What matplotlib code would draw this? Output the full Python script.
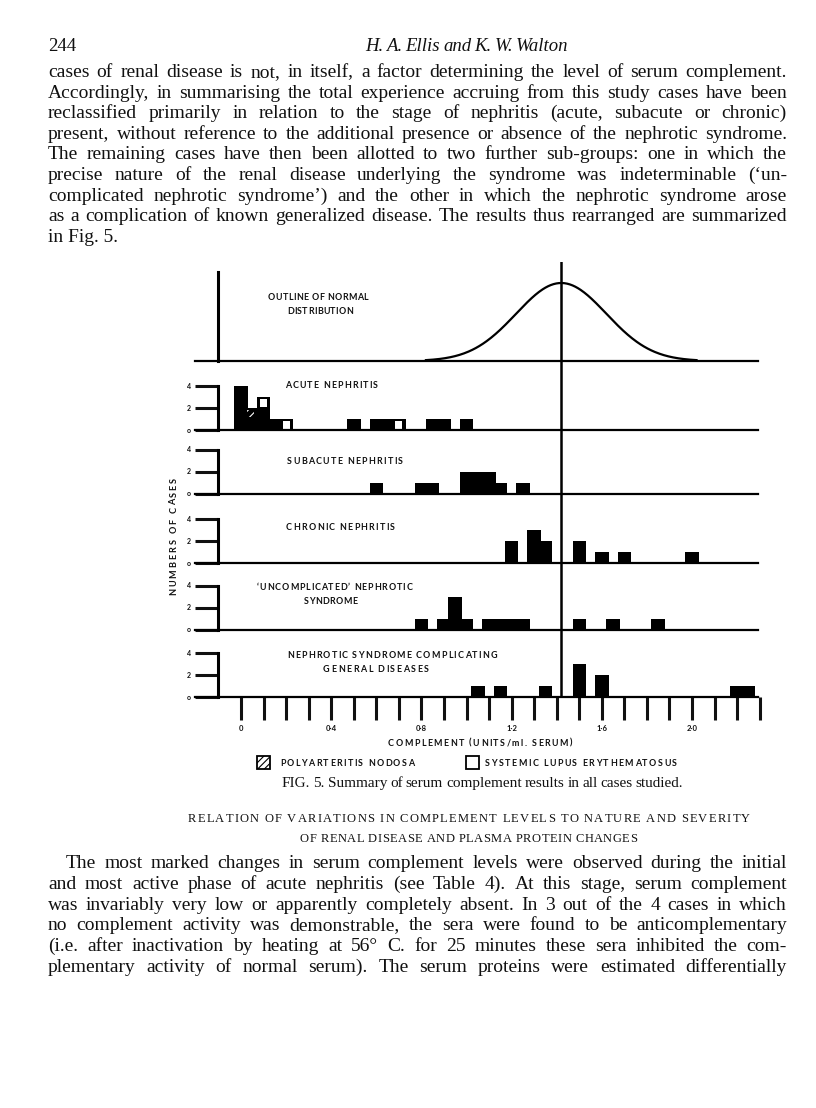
import numpy as np
import matplotlib
matplotlib.use('Agg')
import matplotlib.pyplot as plt
from matplotlib.patches import Rectangle

# ---- values ----
complement_ticks = np.round(np.arange(0, 2.31, 0.1), 1)
tick_labels = {0.0: '0', 0.4: '0·4', 0.8: '0·8', 1.2: '1·2', 1.6: '1·6', 2.0: '2·0'}
normal_mean = 1.42
normal_sd = 0.2

acute_x = [0.0, 0.05, 0.1, 0.15, 0.2, 0.5, 0.6, 0.65, 0.7, 0.85, 0.9, 1.0]
acute_n = [4, 2, 3, 1, 1, 1, 1, 1, 1, 1, 1, 1]
acute_sle = [0, 0, 1, 0, 1, 0, 0, 0, 1, 0, 0, 0]   # top case is lupus
acute_pan = [0, 1, 0, 0, 0, 0, 0, 0, 0, 0, 0, 0]   # polyarteritis nodosa

subacute_x = [0.6, 0.8, 0.85, 1.0, 1.05, 1.1, 1.15, 1.25]
subacute_n = [1, 1, 1, 2, 2, 2, 1, 1]

chronic_x = [1.2, 1.3, 1.35, 1.5, 1.6, 1.7, 2.0]
chronic_n = [2, 3, 2, 2, 1, 1, 1]

uncomp_x = [0.8, 0.9, 0.95, 1.0, 1.1, 1.15, 1.2, 1.25, 1.5, 1.65, 1.85]
uncomp_n = [1, 1, 3, 1, 1, 1, 1, 1, 1, 1, 1]

general_x = [1.05, 1.15, 1.35, 1.5, 1.6, 2.2, 2.25]
general_n = [1, 1, 1, 3, 2, 1, 1]

top_par = [
    "cases of renal disease is not, in itself, a factor determining the level of serum complement.",
    "Accordingly, in summarising the total experience accruing from this study cases have been",
    "reclassified primarily in relation to the stage of nephritis (acute, subacute or chronic)",
    "present, without reference to the additional presence or absence of the nephrotic syndrome.",
    "The remaining cases have then been allotted to two further sub-groups: one in which the",
    "precise nature of the renal disease underlying the syndrome was indeterminable (\u2018un-",
    "complicated nephrotic syndrome\u2019) and the other in which the nephrotic syndrome arose",
    "as a complication of known generalized disease. The results thus rearranged are summarized",
    "in Fig. 5.",
]
bottom_par = [
    "The most marked changes in serum complement levels were observed during the initial",
    "and most active phase of acute nephritis (see Table 4). At this stage, serum complement",
    "was invariably very low or apparently completely absent. In 3 out of the 4 cases in which",
    "no complement activity was demonstrable, the sera were found to be anticomplementary",
    "(i.e. after inactivation by heating at 56\u00b0 C. for 25 minutes these sera inhibited the com-",
    "plementary activity of normal serum). The serum proteins were estimated differentially",
]

W, H = 816, 1108
fig = plt.figure(figsize=(W / 100, H / 100), dpi=100)
renderer = fig.canvas.get_renderer()
plt.rcParams['hatch.linewidth'] = 0.8

SERIF = 'Liberation Serif'
SANS = 'Lato'
INK = '#111111'


def width(s, **kw):
    t = fig.text(0, 0, s, **kw)
    w = t.get_window_extent(renderer).width
    t.remove()
    return w


def line(y, s, x0, x1=None, **kw):
    # a line of text, justified between x0 and x1 (pixels) by the word gaps
    kw.setdefault('color', INK)
    if x1 is None:
        fig.text(x0 / W, 1 - y / H, s, va='baseline', **kw)
        return
    words = s.split()
    widths = [width(w, **kw) for w in words]
    gap = (x1 - x0 - sum(widths)) / max(len(words) - 1, 1)
    gap = max(gap, 3)
    x = x0
    for w, wd in zip(words, widths):
        fig.text(x / W, 1 - y / H, w, va='baseline', **kw)
        x += wd + gap


def char_steps(s, a, b, **kw):
    sp = width('a a', **kw) - width('aa', **kw)
    cw = {ch: (sp if ch == ' ' else width(ch, **kw)) for ch in set(s)}
    total = sum(cw[ch] for ch in s)
    track = max((b - a - total) / max(len(s) - 1, 1), 0.3)
    pos, p = [], a
    for ch in s:
        pos.append(p)
        p += cw[ch] + track
    return pos


def spaced(y, s, x0, x1, va='center', **kw):
    # letter-spaced text filling x0..x1 (pixels)
    kw.setdefault('color', INK)
    for ch, x in zip(s, char_steps(s, x0, x1, **kw)):
        if ch != ' ':
            fig.text(x / W, 1 - y / H, ch, va=va, **kw)


def label(y, s, x0, x1, size=6.4):
    spaced(y, s, x0, x1, fontsize=size, family=SANS, weight='bold')


# ---- page text ----
fig.text(48 / W, 1 - 51 / H, '244', family=SERIF, fontsize=13.5, color=INK, va='baseline')
line(51, 'H. A. Ellis and K. W. Walton', 365, 550, family=SERIF, fontsize=13.5, style='italic')

for i, s in enumerate(top_par):
    y = 77 + 20.6 * i
    if i == len(top_par) - 1:
        line(y, s, 48, family=SERIF, fontsize=14)
    else:
        line(y, s, 48, 787, family=SERIF, fontsize=14)

spaced(822, 'RELATION OF VARIATIONS IN COMPLEMENT LEVELS TO NATURE AND SEVERITY',
       188, 750, va='baseline', family=SERIF, fontsize=9)
spaced(842, 'OF RENAL DISEASE AND PLASMA PROTEIN CHANGES', 300, 637, va='baseline',
       family=SERIF, fontsize=9)

for i, s in enumerate(bottom_par):
    y = 868.5 + 20.6 * i
    line(y, s, 66 if i == 0 else 48, 787, family=SERIF, fontsize=14)

line(787, 'FIG. 5.  Summary of serum complement results in all cases studied.',
     282, 670, family=SERIF, fontsize=11)

# ---- chart ----
XLIM = (-0.315, 2.368)
AX_L, AX_R = 170, 775
UNIT = 11.0


def px_axes(top, bottom):
    ax = fig.add_axes([AX_L / W, 1 - bottom / H, (AX_R - AX_L) / W, (bottom - top) / H])
    ax.set_xlim(*XLIM)
    ax.patch.set_visible(False)
    ax.spines['top'].set_visible(False)
    ax.spines['right'].set_visible(False)
    ax.spines['left'].set_position(('data', -0.102))
    ax.spines['left'].set_linewidth(2.2)
    ax.spines['bottom'].set_linewidth(1.6)
    ax.spines['bottom'].set_bounds(-0.204, 2.293)
    ax.set_xticks([])
    return ax


# outline of normal distribution
ax_top = px_axes(262, 361)
ax_top.set_ylim(0, 99 / 78)
xs = np.linspace(normal_mean - 3 * normal_sd, normal_mean + 3 * normal_sd, 300)
ax_top.plot(xs, np.exp(-0.5 * ((xs - normal_mean) / normal_sd) ** 2), color='black', lw=1.6)
ax_top.spines['left'].set_bounds(0, 89 / 78)
ax_top.set_yticks([])
label(298, 'OUTLINE OF NORMAL', 268, 368)
label(312, 'DISTRIBUTION', 287, 350)

panels = [
    (acute_x, acute_n, acute_sle, acute_pan, 430, [(385, 'ACUTE NEPHRITIS', 285, 378)]),
    (subacute_x, subacute_n, None, None, 493.5, [(462, 'SUBACUTE NEPHRITIS', 287, 403)]),
    (chronic_x, chronic_n, None, None, 562.5, [(528, 'CHRONIC NEPHRITIS', 286, 395)]),
    (uncomp_x, uncomp_n, None, None, 629.5,
     [(588, '\u2018UNCOMPLICATED\u2019 NEPHROTIC', 257, 412), (601, 'SYNDROME', 304, 356)]),
    (general_x, general_n, None, None, 696.5,
     [(656, 'NEPHROTIC SYNDROME COMPLICATING', 287, 497), (669, 'GENERAL DISEASES', 323, 429)]),
]

for k, (px, pn, sle, pan, base, titles) in enumerate(panels):
    ax = px_axes(base - 5.5 * UNIT, base)
    ax.set_ylim(0, 5.5)
    ax.bar(px, pn, width=0.06, color='black', linewidth=0)
    if sle is not None:
        for x, n, s in zip(px, pn, sle):
            if s:
                ax.bar(x, 0.68, bottom=n - 0.88, width=0.032, color='white', linewidth=0)
    if pan is not None:
        for x, n, p in zip(px, pn, pan):
            if p:
                ax.bar(x - 0.008, 0.62, bottom=n - 0.82, width=0.03, facecolor='black',
                       edgecolor='white', hatch='////', linewidth=0)
    ax.spines['left'].set_bounds(0, 4)
    ax.set_yticks([0, 2, 4])
    ax.set_yticklabels(['o', '2', '4'], fontsize=5, fontweight='bold', family=SANS)
    ax.tick_params(axis='y', length=16.5, width=2.2, pad=3, colors=INK)
    for y, s, x0, x1 in titles:
        label(y, s, x0, x1)
    if k == len(panels) - 1:
        ax.set_xticks(complement_ticks)
        ax.set_xticklabels([tick_labels.get(t, '') for t in complement_ticks],
                           fontsize=5.5, fontweight='bold', family=SANS)
        ax.tick_params(axis='x', length=16.5, width=2.2, pad=4, colors=INK)

# vertical line at the normal mean through all panels
ax_v = px_axes(262, 697)
ax_v.axis('off')
ax_v.set_ylim(0, 1)
ax_v.axvline(normal_mean, color='black', lw=1.8)

# rotated, letter-spaced y label (reads bottom to top)
ykw = dict(fontsize=6.6, family=SANS, weight='bold', color=INK)
ylab = 'NUMBERS OF CASES'
for ch, d in zip(ylab, char_steps(ylab, 0, 117, **ykw)):
    if ch != ' ':
        fig.text(174 / W, 1 - (595 - d) / H, ch, rotation=90, ha='center', va='bottom', **ykw)

label(743, 'COMPLEMENT (UNITS/ml. SERUM)', 388, 572)

# legend
fig.patches.append(Rectangle((257 / W, 1 - 769 / H), 13 / W, 13 / H, transform=fig.transFigure,
                             facecolor='white', edgecolor='black', hatch='/////', lw=1.3))
label(763, 'POLYARTERITIS NODOSA', 280, 414)
fig.patches.append(Rectangle((466 / W, 1 - 769 / H), 13 / W, 13 / H, transform=fig.transFigure,
                             facecolor='white', edgecolor='black', lw=1.3))
label(763, 'SYSTEMIC LUPUS ERYTHEMATOSUS', 485, 677)

fig.savefig('out.png', dpi=100)
